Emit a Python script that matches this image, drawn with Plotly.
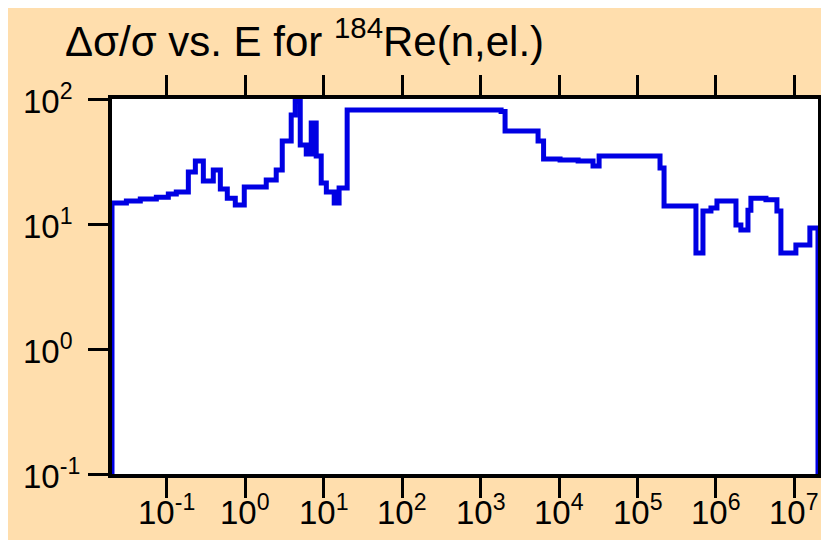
import math
import plotly.graph_objects as go

# Step boundaries (eV) and relative uncertainty (%)
energy = [0.02, 0.02, 0.0305, 0.0459, 0.0735, 0.1045, 0.132, 0.188, 0.231, 0.292,
          0.391, 0.481, 0.590, 0.746, 0.971, 1.85, 2.48, 2.96, 3.85, 4.33,
          5.02, 5.99, 6.93, 8.02, 9.29, 10.8, 13.6, 15.7, 19.9, 1824,
          2050, 5400, 6350, 10300, 17500, 27100, 32400, 193700, 218000, 556000,
          683000, 864000, 1.03e6, 1.80e6, 2.08e6, 2.56e6, 2.79e6, 4.34e6, 5.99e6, 6.73e6,
          1.045e7, 1.575e7, 2.0e7]
rel_unc = [0.001, 14.7, 15.3, 15.85, 16.4, 17.4, 18.0, 26.1, 31.9, 22.1,
           27.0, 19.05, 16.1, 14.2, 19.8, 22.5, 27.0, 46.1, 74.5, 96.4,
           42.9, 36.3, 64.3, 35.0, 21.3, 18.0, 14.7, 19.4, 81.7, 79.4,
           55.5, 46.1, 33.1, 32.5, 31.9, 29.1, 35.0, 28.1, 13.9, 5.86,
           12.7, 13.4, 15.3, 9.8, 8.95, 12.9, 16.1, 15.6, 12.7, 5.86,
           6.79, 9.29, 0.001]

x_tickvals = [1e-1, 1e0, 1e1, 1e2, 1e3, 1e4, 1e5, 1e6, 1e7]
x_ticktext = ["10<sup>-1</sup>", "10<sup>0</sup>", "10<sup>1</sup>", "10<sup>2</sup>",
              "10<sup>3</sup>", "10<sup>4</sup>", "10<sup>5</sup>", "10<sup>6</sup>",
              "10<sup>7</sup>"]
y_tickvals = [1e-1, 1e0, 1e1, 1e2]
y_ticktext = ["10<sup>-1</sup>", "10<sup>0</sup>", "10<sup>1</sup>", "10<sup>2</sup>"]

title_text = "Δσ/σ vs. E for <sup>184</sup>Re(n,el.)"

W, H = 829, 540
L, R, T, B = 104, 19, 91, 74
pw, ph = W - L - R, H - T - B

fig = go.Figure()
fig.add_trace(go.Scatter(
    x=energy, y=rel_unc, mode="lines", line_shape="hv",
    line=dict(color="#0000e3", width=5), showlegend=False,
))

font_family = "Liberation Sans, Arial, Helvetica, sans-serif"
tick_font = dict(family=font_family, size=33, color="black")
axis_common = dict(
    showgrid=False, zeroline=False, showline=True, linecolor="black", linewidth=4,
    mirror="ticks", ticks="outside", ticklen=20, tickwidth=2.5, tickcolor="black",
    showticklabels=False, automargin=False,
)
fig.update_xaxes(type="log", range=[-1.699, 7.301], tickvals=x_tickvals, **axis_common)
fig.update_yaxes(type="log", range=[-1, 2], tickvals=y_tickvals, **axis_common)

annotations = []
for v, t in zip(x_tickvals, x_ticktext):
    annotations.append(dict(
        x=math.log10(v), xref="x", y=-(502 - (H - B)) / ph, yref="paper",
        text=t, showarrow=False, xanchor="center", yanchor="middle",
        font=tick_font,
    ))
for v, t in zip(y_tickvals, y_ticktext):
    annotations.append(dict(
        x=(13 - L) / pw, xref="paper", y=math.log10(v), yref="y",
        text=t, showarrow=False, xanchor="left", yanchor="middle",
        font=tick_font,
    ))
annotations.append(dict(
    x=(55 - L) / pw, xref="paper", y=1 + (T - 30) / ph, yref="paper",
    text=title_text, showarrow=False, xanchor="left", yanchor="middle",
    font=dict(family=font_family, size=42, color="black"),
))

fig.update_layout(
    width=W, height=H,
    paper_bgcolor="#ffdead", plot_bgcolor="white",
    margin=dict(l=L, r=R, t=T, b=B),
    annotations=annotations,
)

fig.write_html("out.html")
